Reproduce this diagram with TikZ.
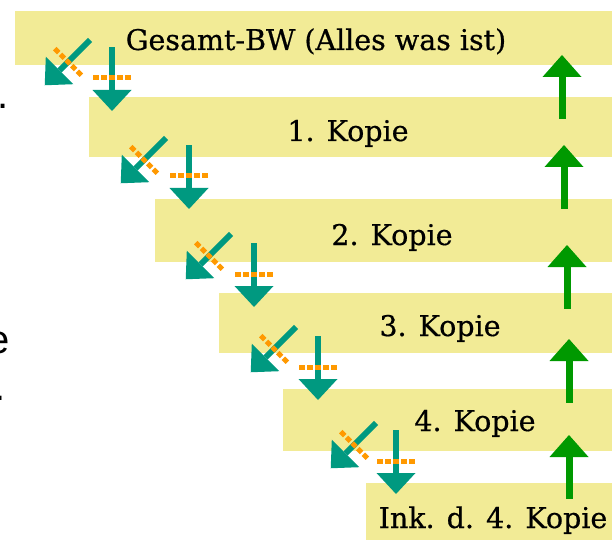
\documentclass[tikz,border=0pt]{standalone}
\usepackage{fontspec}
\setmainfont{DejaVu Serif}
\newfontfamily\barfont{DejaVu Serif}[FakeBold=0.6]
\newfontfamily\edgefont{Liberation Sans}
\definecolor{barfill}{RGB}{242,235,150}
\definecolor{tealarrow}{RGB}{0,153,128}
\definecolor{greenarrow}{RGB}{0,153,0}
\definecolor{cutorange}{RGB}{255,153,0}
\tikzset{
  barbox/.style={rectangle, fill=barfill, draw=none, inner sep=0pt, outer sep=0pt, anchor=north west},
  bartext/.style={font=\barfont\fontsize{28.5}{34}\selectfont, inner sep=0pt, anchor=base, text=black},
  edgetext/.style={font=\edgefont\fontsize{40}{48}\selectfont, inner sep=0pt, anchor=base west, text=black},
  cutarrow/.pic={
    \fill[tealarrow] (-3,0) rectangle (3,43);
    \fill[tealarrow] (-19.5,43) -- (19.5,43) -- (0,64) -- cycle;
    \draw[cutorange, line width=5pt, dash pattern=on 5.5pt off 2.5pt] (-18.75,31) -- (18.75,31);
  },
  uparrow/.pic={
    \fill[greenarrow] (0,0) -- (19.5,22) -- (-19.5,22) -- cycle;
    \fill[greenarrow] (-3.5,22) rectangle (3.5,64);
  }
}
\begin{document}
\begin{tikzpicture}[x=1pt, y=-1pt]
  \useasboundingbox (0,0) rectangle (613,540);
  \clip (0,0) rectangle (613,540);
  \fill[white] (0,0) rectangle (613,540);

  % bars
  \node[barbox, minimum width=597pt, minimum height=54pt] (b0) at (15,11) {};
  \node[barbox, minimum width=523pt, minimum height=60pt] (b1) at (89,97) {};
  \node[barbox, minimum width=457pt, minimum height=63pt] (b2) at (155,199) {};
  \node[barbox, minimum width=393pt, minimum height=60pt] (b3) at (219,293) {};
  \node[barbox, minimum width=329pt, minimum height=62pt] (b4) at (283,389) {};
  \node[barbox, minimum width=246pt, minimum height=60pt] (b5) at (366,483) {};

  % labels
  \node[bartext] (t0) at (316,50) {Gesamt-BW (Alles was ist)};
  \node[bartext] (t1) at (348,141) {1. Kopie};
  \node[bartext] (t2) at (392,245) {2. Kopie};
  \node[bartext] (t3) at (440,336) {3. Kopie};
  \node[bartext] (t4) at (475,431) {4. Kopie};
  \node[bartext] (t5) at (493,528) {Ink. d. 4. Kopie};

  % teal arrows: diagonal and downward, each cut by an orange dashed bar
  \pic[rotate=-45] (d0) at (90,40) {cutarrow};
  \pic (v0) at (112,47) {cutarrow};
  \pic[rotate=-45] (d1) at (166,138) {cutarrow};
  \pic (v1) at (189,145) {cutarrow};
  \pic[rotate=-45] (d2) at (231,234) {cutarrow};
  \pic (v2) at (254,243) {cutarrow};
  \pic[rotate=-45] (d3) at (296,327) {cutarrow};
  \pic (v3) at (318,336) {cutarrow};
  \pic[rotate=-45] (d4) at (376,423) {cutarrow};
  \pic (v4) at (396,430) {cutarrow};

  % green upward arrows
  \pic (u0) at (562,55) {uparrow};
  \pic (u1) at (564,145) {uparrow};
  \pic (u2) at (567,245) {uparrow};
  \pic (u3) at (569,339) {uparrow};
  \pic (u4) at (569,435) {uparrow};

  % text fragments cut off at the left edge
  \node[edgetext] (e0) at (-2.5,109) {.};
  \node[edgetext] (e1) at (-12.5,353) {e};
  \node[edgetext] (e2) at (-5.5,400) {.};
\end{tikzpicture}
\end{document}
